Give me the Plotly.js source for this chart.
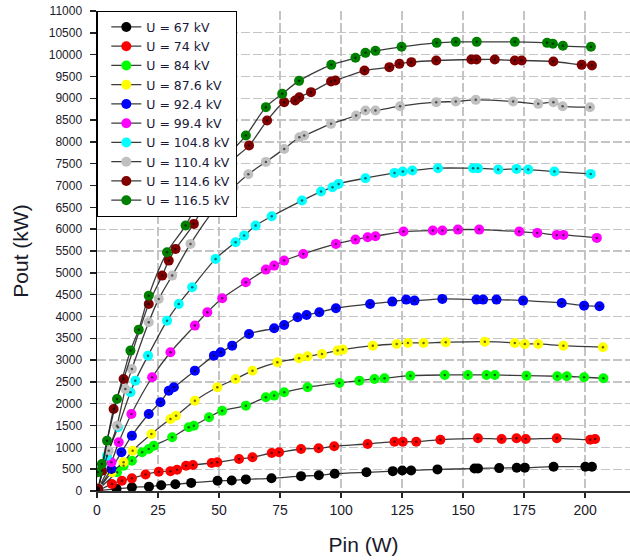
<!DOCTYPE html>
<html>
<head>
<meta charset="utf-8">
<script src="https://cdn.plot.ly/plotly-3.0.1.min.js"></script>
<style>html,body{margin:0;padding:0;background:#fff;}#chart{width:630px;height:560px;}</style>
</head>
<body>
<div id="chart"></div>
<script>
// Series names and colours
const seriesNames = ["U = 67 kV","U = 74 kV","U = 84 kV","U = 87.6 kV","U = 92.4 kV","U = 99.4 kV","U = 104.8 kV","U = 110.4 kV","U = 114.6 kV","U = 116.5 kV"];
const seriesColors = ["#000000","#ff0000","#00ff00","#ffff00","#0000ff","#ff00ff","#00ffff","#c0c0c0","#800000","#008000"];

// Pin (W) / Pout (kW)
const x67 = [0.5, 8, 14.3, 21.3, 26.3, 32.1, 38.6, 49.4, 55.2, 61, 71.5, 83.6, 90.9, 97.4, 110.4, 121.2, 125.1, 128.7, 139.5, 154.7, 156.1, 164.8, 172, 175.3, 187.1, 200.1, 202.8];
const y67 = [10, 50, 85, 100, 131, 154, 186, 234, 240, 266, 291, 340, 360, 395, 429, 455, 470, 470, 495, 515, 518, 525, 532, 535, 557, 557, 557];

const x74 = [0.5, 6.1, 10.2, 14.3, 19.9, 25.3, 30.1, 32.8, 36.5, 39.3, 47, 49.3, 58.2, 63.7, 71.6, 74.6, 83.6, 90.8, 97.2, 110.9, 121.9, 125.3, 130.8, 140.7, 156.1, 165.8, 171.9, 175.7, 188.4, 202.1, 204.1];
const y74 = [20, 160, 236, 290, 380, 443, 455, 488, 580, 596, 642, 658, 734, 773, 871, 887, 963, 979, 1025, 1077, 1130, 1130, 1130, 1176, 1208, 1192, 1208, 1192, 1208, 1176, 1192];

const x84 = [0.5, 8.2, 10.9, 14.3, 18.5, 21.2, 23.3, 30.8, 37.6, 39.7, 45.9, 51.3, 61, 69.2, 72.6, 76.7, 86.3, 99.3, 107.5, 113.7, 117.8, 128.4, 142.5, 152, 159.6, 163, 176, 188.6, 192.5, 199.6, 207.5];
const y84 = [30, 429, 580, 695, 887, 963, 1039, 1231, 1460, 1497, 1690, 1841, 1956, 2148, 2186, 2262, 2377, 2476, 2529, 2568, 2584, 2643, 2659, 2659, 2659, 2659, 2643, 2630, 2630, 2607, 2584];

const x876 = [0.5, 6.1, 10.9, 14.6, 22.3, 30.1, 32.4, 40.1, 49.3, 56.8, 63.7, 73.9, 82.8, 86.3, 92.2, 98.6, 100.7, 113, 122.8, 127.4, 133.8, 142.9, 158.9, 171.2, 175.3, 180.8, 191.1, 207.3];
const y876 = [30, 429, 658, 924, 1307, 1651, 1726, 2070, 2377, 2568, 2758, 2950, 3042, 3088, 3141, 3217, 3240, 3331, 3370, 3393, 3393, 3409, 3423, 3393, 3370, 3370, 3331, 3294];

const x924 = [0.5, 5.9, 10, 14.3, 21.2, 26, 29.4, 31.5, 40.1, 47.9, 50.7, 55.4, 62.3, 72.6, 76.7, 82.2, 85.9, 91.1, 97.9, 111.9, 121, 126.7, 130.1, 141.5, 155.5, 158.2, 163.7, 174.6, 190.4, 199.6, 205.9];
const y924 = [40, 504, 887, 1268, 1765, 2033, 2299, 2377, 2758, 3102, 3180, 3331, 3599, 3729, 3806, 3982, 4035, 4097, 4188, 4287, 4340, 4386, 4363, 4402, 4386, 4386, 4386, 4363, 4310, 4248, 4234];

const x994 = [0.5, 5.9, 8.9, 14.1, 22.6, 30.1, 40.1, 45.2, 51.3, 61, 69.2, 72.6, 76.7, 84.5, 97.9, 105.9, 110.9, 114.1, 125.6, 137.6, 141.5, 147.9, 156.6, 173, 180.4, 188.4, 191.1, 204.8];
const y994 = [50, 658, 1116, 1765, 2607, 3180, 3790, 4097, 4417, 4784, 5074, 5165, 5280, 5433, 5663, 5761, 5816, 5839, 5945, 5968, 5968, 5990, 5990, 5945, 5915, 5869, 5869, 5800];

const x1048 = [0.5, 4.1, 8.6, 13.7, 15.7, 20.9, 28.7, 33.5, 39, 48.6, 56.8, 60.3, 65, 71.6, 84, 91.8, 96.5, 99, 110, 121.9, 125.3, 129.2, 139.7, 154.1, 156.1, 164.4, 171.9, 176.7, 187.4, 202.3];
const y1048 = [60, 809, 1460, 2262, 2529, 3102, 3904, 4287, 4670, 5319, 5701, 5853, 6082, 6297, 6656, 6862, 6962, 7038, 7169, 7290, 7320, 7344, 7398, 7398, 7398, 7366, 7382, 7366, 7320, 7267];

const x1104 = [0.5, 4.8, 8.2, 11.6, 14.3, 21.2, 25.3, 30.8, 38.3, 48, 56, 62, 69.2, 76.7, 82.9, 84.9, 95.9, 106.2, 110, 114.1, 124.2, 139, 147, 155.2, 170.5, 180.8, 187, 190.8, 202];
const y1104 = [80, 924, 1497, 2338, 2797, 3868, 4402, 4936, 5663, 6450, 6960, 7260, 7542, 7840, 8108, 8146, 8414, 8605, 8720, 8720, 8819, 8911, 8926, 8964, 8926, 8872, 8911, 8819, 8796];

const x1146 = [0.5, 2, 6.8, 10.9, 21.2, 26.7, 29.4, 32.2, 39.7, 48, 55, 62.3, 69.7, 76.7, 81.2, 82.9, 87.7, 95.9, 97.7, 109.6, 119.8, 123.9, 128.8, 139, 153.4, 155.5, 163, 171.2, 174, 187, 198.6, 202.8];
const y1146 = [50, 466, 1880, 2568, 4287, 4936, 5280, 5548, 6121, 7000, 7550, 7916, 8489, 8911, 8948, 9025, 9140, 9384, 9407, 9636, 9713, 9789, 9828, 9866, 9888, 9888, 9888, 9866, 9866, 9843, 9766, 9751];

const x1165 = [0.3, 2, 4.1, 8.2, 13.7, 17.1, 21.2, 28.7, 36.3, 45, 53, 61, 69.2, 75.9, 82.8, 96, 105.9, 110, 114.1, 124.8, 139.2, 147, 155.6, 171.2, 184.4, 186.8, 190.9, 202.4];
const y1165 = [430, 619, 1153, 2109, 3217, 3698, 4477, 5472, 6083, 7000, 7650, 8145, 8797, 9101, 9399, 9766, 9927, 10041, 10087, 10179, 10270, 10293, 10293, 10293, 10270, 10248, 10202, 10179];

const xs = [x67, x74, x84, x876, x924, x994, x1048, x1104, x1146, x1165];
const ys = [y67, y74, y84, y876, y924, y994, y1048, y1104, y1146, y1165];

const traces = [];
for (let i = 0; i < seriesNames.length; i++) {
  traces.push({
    type: 'scatter', mode: 'lines+markers', name: seriesNames[i],
    x: xs[i], y: ys[i],
    line: {color: 'rgba(25,25,25,0.85)', width: 1.3, shape: 'spline', smoothing: 0.8},
    marker: {color: seriesColors[i], size: 10, line: {width: 0}}
  });
}
for (let i = 0; i < seriesNames.length; i++) {
  traces.push({
    type: 'scatter', mode: 'markers', showlegend: false, hoverinfo: 'skip',
    x: xs[i], y: ys[i],
    marker: {color: 'rgba(0,0,0,0.6)', size: 2.5}
  });
}

const layout = {
  width: 630, height: 560,
  margin: {l: 97, r: 0, t: 11, b: 69},
  paper_bgcolor: '#fff', plot_bgcolor: '#fff',
  font: {family: 'Liberation Sans, Arial, sans-serif', color: '#1a1a2a'},
  showlegend: true,
  legend: {
    x: 0, y: 1, xanchor: 'left', yanchor: 'top',
    bgcolor: '#fff', bordercolor: '#000', borderwidth: 1.3,
    font: {family: 'DejaVu Sans, sans-serif', size: 12.5, color: '#1a1a3a'},
    indentation: 8, tracegroupgap: 0
  },
  xaxis: {
    range: [0, 218.4], dtick: 25, tick0: 0,
    showline: true, linecolor: '#333', linewidth: 2.2,
    ticks: 'outside', ticklen: 5, tickcolor: '#222', tickwidth: 1.5,
    tickfont: {size: 14},
    showgrid: true, gridcolor: '#c4c4c4', gridwidth: 1.2, griddash: '9px,3px',
    zeroline: false,
    title: {text: 'Pin (W)', font: {size: 21}, standoff: 20}
  },
  yaxis: {
    range: [0, 11000], dtick: 500, tick0: 0, tickformat: 'd',
    showline: true, linecolor: '#000', linewidth: 1.5,
    ticks: 'outside', ticklen: 6, tickcolor: '#222', tickwidth: 1.5,
    ticklabelstandoff: 5,
    tickfont: {size: 12},
    showgrid: true, gridcolor: '#c4c4c4', gridwidth: 1.2, griddash: '9px,3px',
    zeroline: false,
    title: {text: 'Pout (kW)', font: {size: 21}, standoff: 14}
  }
};

Plotly.newPlot('chart', traces, layout, {displayModeBar: false, staticPlot: true});
</script>
</body>
</html>
